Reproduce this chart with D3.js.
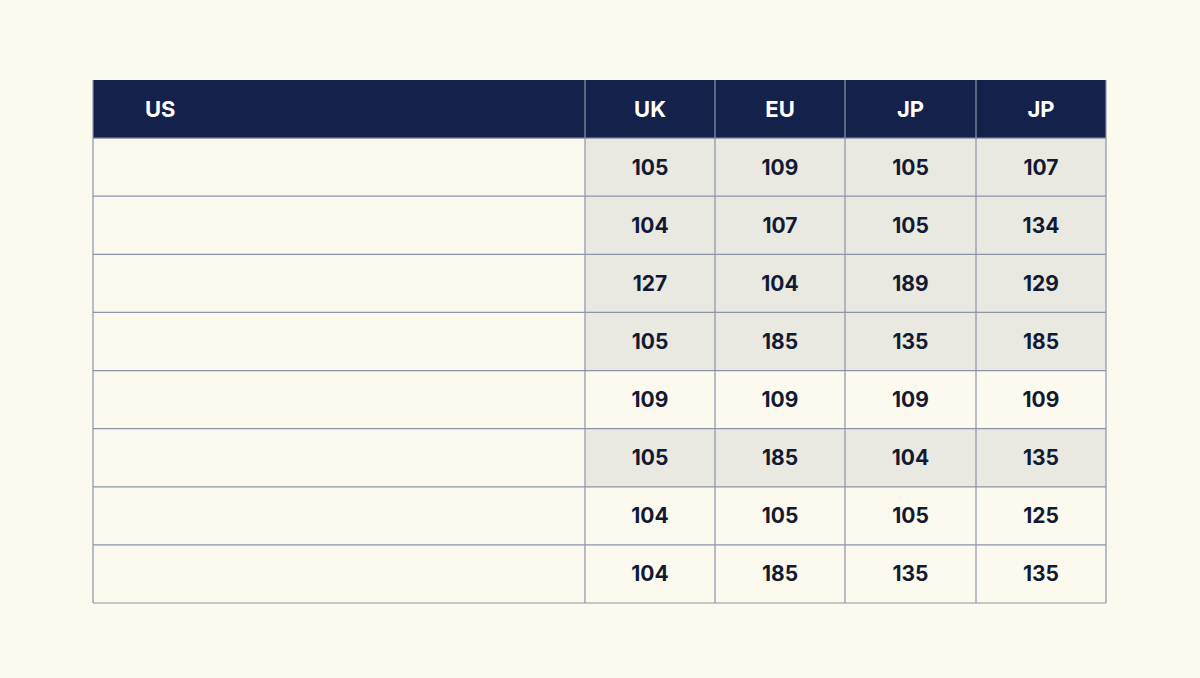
<!DOCTYPE html><html><head><meta charset="utf-8"><script src="https://cdn.jsdelivr.net/npm/d3@7"></script>
<style>body{margin:0;background:#fcf9ee}</style></head><body><svg id="c" width="1200" height="678"></svg>
<script>
const headers=["US","UK","EU","JP","JP"];
const colUK=[105,104,127,105,109,105,104,104];
const colEU=[109,107,104,185,109,185,105,185];
const colJP1=[105,105,189,135,109,104,105,135];
const colJP2=[107,134,129,185,109,135,125,135];
const shaded=[true,true,true,true,false,true,false,false];
const cols=[colUK,colEU,colJP1,colJP2];
const svg=d3.select("#c");
svg.append("rect").attr("width",1200).attr("height",678).attr("fill","#fcf9ee");
const x=d3.scaleOrdinal().domain([0,1,2,3,4]).range([93,585,715,845,976]);
const w=[492,130,130,131,130];
const y=d3.scaleBand().domain(d3.range(9)).range([80,603]);
const rh=y.bandwidth();
const font="Inter, 'Open Sans', sans-serif";
// header
svg.append("rect").attr("x",93).attr("y",y(0)).attr("width",1013).attr("height",rh).attr("fill","#14214b");
headers.forEach((h,i)=>{
  svg.append("text").attr("x",i===0?145:x(i)+w[i]/2).attr("y",y(0)+rh/2).attr("dy","0.35em")
   .attr("text-anchor",i===0?"start":"middle").attr("fill","#fff").attr("font-family",font)
   .attr("font-weight",700).attr("font-size",22).text(h);
});
d3.range(8).forEach(r=>{
  const yy=y(r+1);
  if(shaded[r]) svg.append("rect").attr("x",585).attr("y",yy).attr("width",521).attr("height",rh).attr("fill","#e9e8e1");
  cols.forEach((c,j)=>{
    svg.append("text").attr("x",x(j+1)+w[j+1]/2).attr("y",yy+rh/2).attr("dy","0.35em").attr("text-anchor","middle")
     .attr("fill","#121a33").attr("font-family",font).attr("font-weight",700).attr("font-size",21).text(c[r]);
  });
});
const st="#8d93aa";
d3.range(1,9).forEach(r=>svg.append("line").attr("x1",93).attr("x2",1106).attr("y1",y(r)).attr("y2",y(r)).attr("stroke",st).attr("stroke-width",1.2));
svg.append("line").attr("x1",93).attr("x2",1106).attr("y1",603).attr("y2",603).attr("stroke",st).attr("stroke-width",1.2);
[93,585,715,845,976,1106].forEach(xx=>svg.append("line").attr("x1",xx).attr("x2",xx).attr("y1",80).attr("y2",603).attr("stroke",st).attr("stroke-width",1.2));
</script></body></html>
